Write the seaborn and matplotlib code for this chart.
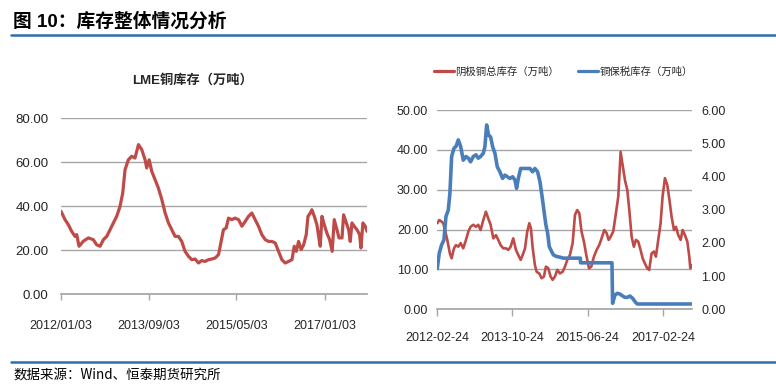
import matplotlib.pyplot as plt
import matplotlib.dates as mdates
import matplotlib.ticker as mticker
from matplotlib.lines import Line2D
import pandas as pd
import seaborn as sns

# LME copper stock (10k t)
lme_dates = ["2012-01-03", "2012-01-31", "2012-02-23", "2012-03-17", "2012-04-09", "2012-04-21",
             "2012-05-07", "2012-06-06", "2012-07-11", "2012-08-14", "2012-09-06", "2012-09-30",
             "2012-10-23", "2012-11-15", "2012-12-08", "2012-12-31", "2013-01-23", "2013-02-15",
             "2013-03-06", "2013-03-22", "2013-04-14", "2013-05-07", "2013-05-30", "2013-06-23",
             "2013-07-16", "2013-08-08", "2013-08-19", "2013-09-05", "2013-09-23", "2013-10-16",
             "2013-11-08", "2013-12-02", "2013-12-25", "2014-01-17", "2014-02-09", "2014-03-04",
             "2014-03-27", "2014-04-19", "2014-05-12", "2014-06-05", "2014-06-28", "2014-07-21",
             "2014-08-13", "2014-09-05", "2014-09-28", "2014-10-21", "2014-11-13", "2014-12-07",
             "2014-12-30", "2015-01-15", "2015-02-02", "2015-02-21", "2015-03-09", "2015-04-01",
             "2015-04-24", "2015-05-18", "2015-06-10", "2015-07-03", "2015-07-26", "2015-08-18",
             "2015-09-10", "2015-10-03", "2015-10-26", "2015-11-19", "2015-12-12", "2016-01-04",
             "2016-01-27", "2016-02-19", "2016-03-13", "2016-04-05", "2016-04-28", "2016-05-22",
             "2016-06-07", "2016-06-21", "2016-07-07", "2016-07-25", "2016-08-11", "2016-08-29",
             "2016-09-10", "2016-09-26", "2016-10-07", "2016-10-24", "2016-11-11", "2016-11-23",
             "2016-12-04", "2016-12-16", "2017-01-01", "2017-01-19", "2017-02-07", "2017-02-25",
             "2017-03-11", "2017-03-30", "2017-04-13", "2017-05-04", "2017-05-15", "2017-06-03",
             "2017-06-19", "2017-06-30", "2017-07-12", "2017-07-28", "2017-08-16", "2017-09-03",
             "2017-09-12", "2017-09-26", "2017-10-12", "2017-10-24"]
lme_stock = [37.6, 33.8, 31.5, 28.5, 26.2, 27.0,
             21.7, 24.0, 25.5, 24.7, 22.4, 21.7,
             24.7, 26.2, 29.2, 32.3, 35.3, 39.8,
             45.9, 56.5, 61.0, 62.6, 61.8, 67.9,
             65.6, 61.0, 57.3, 61.0, 55.8, 52.0,
             48.2, 42.9, 36.8, 32.3, 29.2, 26.2,
             26.2, 23.9, 19.4, 17.1, 15.6, 15.9,
             14.1, 15.2, 14.8, 15.6, 15.9, 16.4,
             17.9, 23.2, 29.2, 30.0, 34.5, 33.8,
             34.5, 33.8, 30.8, 33.0, 35.3, 36.8,
             33.8, 30.8, 27.0, 24.7, 23.9, 23.9,
             23.2, 19.4, 15.6, 14.1, 14.8, 15.6,
             21.7, 19.4, 23.9, 20.2, 22.4, 27.0,
             35.3, 36.8, 38.3, 35.3, 31.5, 26.2,
             21.7, 35.3, 31.5, 27.7, 24.7, 19.4,
             33.8, 29.2, 25.5, 25.5, 36.0, 32.3,
             29.2, 23.9, 32.3, 30.8, 29.2, 27.0,
             20.9, 32.3, 30.8, 28.5]

# SHFE cathode copper total stock (10k t, left axis)
cathode_dates = ["2012-02-24", "2012-03-11", "2012-03-30", "2012-04-12", "2012-04-26", "2012-05-15",
                 "2012-06-05", "2012-06-19", "2012-07-08", "2012-07-24", "2012-08-12", "2012-08-31",
                 "2012-09-21", "2012-10-13", "2012-11-01", "2012-11-19", "2012-12-11", "2013-01-02",
                 "2013-01-20", "2013-02-08", "2013-03-02", "2013-03-23", "2013-04-11", "2013-04-30",
                 "2013-05-22", "2013-06-12", "2013-07-01", "2013-07-20", "2013-08-10", "2013-09-01",
                 "2013-09-20", "2013-10-09", "2013-10-30", "2013-11-21", "2013-12-10", "2013-12-29",
                 "2014-01-14", "2014-02-02", "2014-02-20", "2014-03-09", "2014-03-22", "2014-04-04",
                 "2014-04-23", "2014-05-07", "2014-05-28", "2014-06-16", "2014-07-05", "2014-07-21",
                 "2014-08-09", "2014-08-28", "2014-09-13", "2014-10-02", "2014-10-21", "2014-11-11",
                 "2014-12-03", "2014-12-22", "2015-01-10", "2015-01-31", "2015-02-22", "2015-03-13",
                 "2015-03-31", "2015-04-17", "2015-05-05", "2015-05-24", "2015-06-15", "2015-07-04",
                 "2015-07-23", "2015-08-13", "2015-09-04", "2015-09-25", "2015-10-14", "2015-11-05",
                 "2015-11-24", "2015-12-10", "2015-12-26", "2016-01-16", "2016-02-07", "2016-02-26",
                 "2016-03-16", "2016-04-01", "2016-04-20", "2016-05-09", "2016-05-25", "2016-06-13",
                 "2016-07-01", "2016-07-18", "2016-08-05", "2016-08-24", "2016-09-10", "2016-09-28",
                 "2016-10-17", "2016-11-02", "2016-11-21", "2016-12-10", "2016-12-26", "2017-01-14",
                 "2017-02-02", "2017-02-18", "2017-03-09", "2017-03-28", "2017-04-13", "2017-05-02",
                 "2017-05-21", "2017-06-06", "2017-06-25", "2017-07-14", "2017-07-30", "2017-08-18",
                 "2017-09-06", "2017-09-22", "2017-09-30", "2017-10-11"]
cathode_stock = [21.6, 22.4, 22.0, 21.6, 19.9, 17.4,
                 14.0, 12.8, 15.3, 16.1, 15.7, 16.6,
                 15.3, 17.4, 19.5, 20.7, 21.2, 20.7,
                 21.2, 19.9, 22.4, 24.5, 22.8, 21.2,
                 17.8, 18.6, 17.4, 16.1, 15.3, 15.3,
                 14.9, 15.7, 17.8, 14.9, 13.6, 12.4,
                 13.6, 15.3, 19.5, 21.6, 20.3, 15.7,
                 11.1, 9.4, 9.0, 7.8, 8.2, 10.7,
                 10.3, 8.2, 7.4, 8.2, 9.9, 9.0,
                 9.4, 10.7, 12.4, 13.6, 16.6, 23.7,
                 24.9, 24.1, 19.5, 17.0, 13.2, 10.3,
                 10.7, 13.2, 14.9, 16.1, 17.8, 19.9,
                 19.1, 17.4, 18.2, 19.5, 24.1, 28.3,
                 39.5, 36.2, 32.4, 29.9, 24.9, 18.2,
                 15.7, 17.4, 17.0, 14.9, 12.8, 11.5,
                 10.3, 9.9, 14.0, 14.5, 13.2, 17.4,
                 21.6, 28.3, 32.9, 31.2, 27.8, 23.2,
                 19.9, 20.7, 18.6, 17.4, 19.9, 18.6,
                 17.0, 13.2, 10.3, 11.1]

# bonded copper stock (10k t, right axis)
bonded_dates = ["2012-02-24", "2012-03-11", "2012-03-30", "2012-04-18", "2012-05-04", "2012-05-23",
                "2012-06-05", "2012-06-19", "2012-07-08", "2012-07-24", "2012-08-12", "2012-08-31",
                "2012-09-21", "2012-10-13", "2012-11-01", "2012-11-19", "2012-12-11", "2013-01-02",
                "2013-01-20", "2013-02-08", "2013-03-02", "2013-03-15", "2013-03-29", "2013-04-14",
                "2013-04-30", "2013-05-16", "2013-06-04", "2013-06-23", "2013-07-14", "2013-08-05",
                "2013-08-24", "2013-09-12", "2013-10-03", "2013-10-25", "2013-11-13", "2013-11-26",
                "2013-12-10", "2013-12-29", "2014-03-14", "2014-04-04", "2014-04-23", "2014-05-15",
                "2014-06-03", "2014-06-24", "2014-07-08", "2014-07-21", "2014-08-04", "2014-08-17",
                "2014-09-05", "2014-09-19", "2014-10-15", "2014-11-11", "2014-12-08", "2015-04-25",
                "2015-04-27", "2016-01-06", "2016-01-11", "2016-01-30", "2016-02-18", "2016-03-10",
                "2016-04-01", "2016-04-20", "2016-05-09", "2016-05-30", "2016-06-21", "2016-07-10",
                "2016-07-28", "2017-10-11"]
bonded_stock = [1.23, 1.69, 1.94, 2.09, 2.79, 2.99,
                3.49, 4.60, 4.85, 4.90, 5.10, 4.90,
                4.49, 4.60, 4.55, 4.44, 4.60, 4.65,
                4.55, 4.60, 4.70, 4.90, 5.55, 5.24,
                5.19, 4.90, 4.70, 4.29, 4.14, 3.94,
                4.04, 3.99, 3.94, 3.99, 3.89, 3.64,
                3.94, 4.24, 4.24, 4.14, 4.24, 4.14,
                3.84, 3.29, 2.89, 2.54, 2.29, 1.89,
                1.74, 1.64, 1.59, 1.57, 1.54, 1.54,
                1.40, 1.40, 0.18, 0.43, 0.48, 0.46,
                0.40, 0.36, 0.36, 0.40, 0.33, 0.23,
                0.16, 0.16]

lme_ticks = ["2012-01-03", "2013-09-03", "2015-05-03", "2017-01-03"]
shfe_ticks = ["2012-02-24", "2013-10-24", "2015-06-24", "2017-02-24"]

RED = "#BE4B48"
BLUE = "#4A7EBB"
GRID = "#A6A6A6"
TXT = "#262626"
HEAD = "#2E6EB0"

sns.set_theme(style="white")
plt.rcParams["font.family"] = ["Liberation Sans", "Noto Sans CJK SC", "DejaVu Sans"]

fig = plt.figure(figsize=(7.76, 3.86), dpi=100)


def style_axes(ax, size):
    for s in ax.spines.values():
        s.set_visible(False)
    ax.spines["bottom"].set_visible(True)
    ax.spines["bottom"].set_color(GRID)
    ax.yaxis.grid(True, color=GRID, lw=1)
    ax.xaxis.grid(False)
    ax.yaxis.set_major_formatter(mticker.FormatStrFormatter("%.2f"))
    ax.tick_params(axis="y", length=0, labelsize=size, colors=TXT)
    ax.set_xlabel("")
    ax.set_ylabel("")


# left: LME
ax1 = fig.add_axes([0.0786, 0.2383, 0.3943, 0.456])
sns.lineplot(x=pd.to_datetime(lme_dates), y=lme_stock, ax=ax1, color=RED, lw=2.3)
style_axes(ax1, 9.5)
ax1.set_ylim(0, 80)
ax1.set_yticks(range(0, 81, 20))
ax1.tick_params(axis="y", pad=9)
ax1.set_xlim(pd.Timestamp(lme_dates[0]), pd.Timestamp(lme_dates[-1]))
ax1.set_xticks(pd.to_datetime(lme_ticks))
ax1.xaxis.set_major_formatter(mdates.DateFormatter("%Y/%m/%d"))
ax1.tick_params(axis="x", bottom=True, length=4, width=1, color=GRID, direction="out",
                pad=15, labelsize=9, labelcolor=TXT)
fig.text(0.2487, 0.793, "LME铜库存（万吨）", ha="center", va="center", fontsize=9.5,
         fontweight="bold", color=TXT)

# right: SHFE cathode + bonded
ax2 = fig.add_axes([0.5635, 0.1987, 0.3278, 0.5163])
sns.lineplot(x=pd.to_datetime(cathode_dates), y=cathode_stock, ax=ax2, color=RED, lw=1.9)
style_axes(ax2, 9)
ax2.set_ylim(0, 50)
ax2.set_yticks(range(0, 51, 10))
ax2.tick_params(axis="y", pad=6.5)
ax2.set_xlim(pd.Timestamp(cathode_dates[0]), pd.Timestamp(cathode_dates[-1]))
ax2.set_xticks(pd.to_datetime(shfe_ticks))
ax2.xaxis.set_major_formatter(mdates.DateFormatter("%Y-%m-%d"))
ax2.tick_params(axis="x", bottom=True, length=5, width=1, color=GRID, direction="out",
                pad=11, labelsize=9, labelcolor=TXT)

ax3 = ax2.twinx()
sns.lineplot(x=pd.to_datetime(bonded_dates), y=bonded_stock, ax=ax3, color=BLUE, lw=2.6)
for s in ax3.spines.values():
    s.set_visible(False)
ax3.grid(False)
ax3.set_ylim(0, 6)
ax3.set_yticks(range(0, 7))
ax3.yaxis.set_major_formatter(mticker.FormatStrFormatter("%.2f"))
ax3.tick_params(axis="y", length=0, pad=7, labelsize=9, colors=TXT)
ax3.set_ylabel("")
ax3.set_xlim(pd.Timestamp(cathode_dates[0]), pd.Timestamp(cathode_dates[-1]))

handles = [Line2D([], [], color=RED, lw=2.3), Line2D([], [], color=BLUE, lw=2.3)]
fig.legend(handles, ["阴极铜总库存（万吨）", "铜保税库存（万吨）"], loc="center",
           bbox_to_anchor=(0.726, 0.8135), ncol=2, frameon=False,
           handlelength=1.9, handletextpad=0.15, columnspacing=1.8,
           prop={"family": ["Noto Sans CJK SC", "DejaVu Sans"], "size": 7.5})

# header and footer
fig.text(0.0168, 0.944, "图 10：库存整体情况分析", ha="left", va="center", fontsize=13.5,
         fontweight="bold", color="black")
fig.add_artist(Line2D([0.0142, 1.0], [0.9093, 0.9093], transform=fig.transFigure, color=HEAD, lw=1.8))
fig.add_artist(Line2D([0.0142, 1.0], [0.0622, 0.0622], transform=fig.transFigure, color=HEAD, lw=1.8))
fig.text(0.0168, 0.0285, "数据来源：Wind、恒泰期货研究所", ha="left", va="center", fontsize=9.7,
         color="black", family=["Noto Sans CJK SC", "DejaVu Sans"])

fig.savefig("out.png", dpi=100)
